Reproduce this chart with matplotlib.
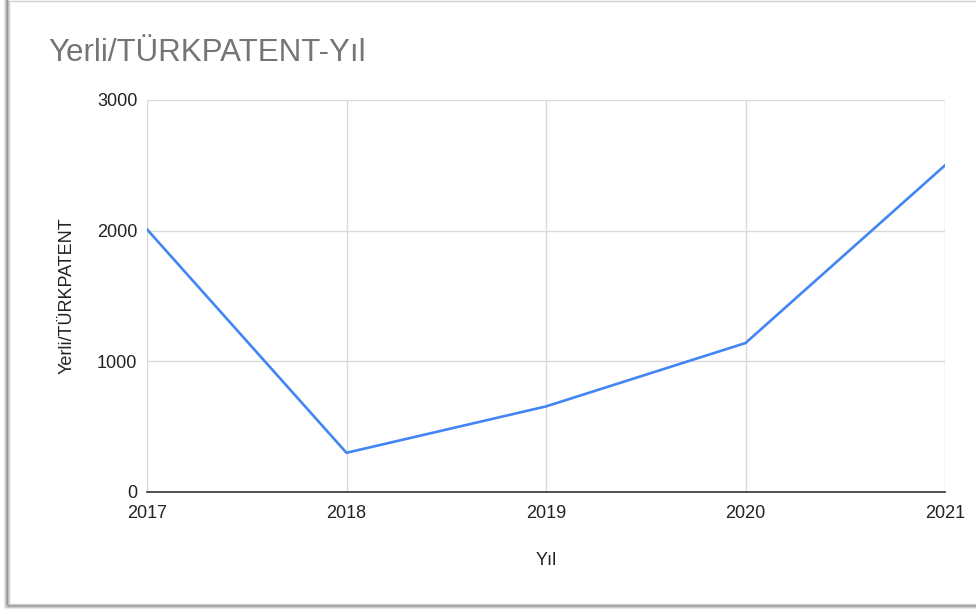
import matplotlib.pyplot as plt
from matplotlib.patches import Rectangle

years = [2017, 2018, 2019, 2020, 2021]
values = [2010, 300, 655, 1140, 2500]
y_ticks = [0, 1000, 2000, 3000]

plt.rcParams['font.family'] = ['Liberation Sans', 'DejaVu Sans']

W, H = 976, 614
fig = plt.figure(figsize=(W / 100, H / 100), dpi=100)
fig.patch.set_facecolor('white')

# card frame with soft shadow (left and bottom)
for i, a in enumerate([0.10, 0.16, 0.24, 0.32]):
    off = 4 - i
    fig.patches.append(Rectangle(((9 - off) / W, (H - 604 - off) / H), 1.2, 1.2,
                                 transform=fig.transFigure, facecolor='none',
                                 edgecolor=(0, 0, 0, a), linewidth=1.2, zorder=0))
fig.patches.append(Rectangle((9 / W, (H - 604) / H), 1.2, (604 - 0.5) / H,
                             transform=fig.transFigure, facecolor='white',
                             edgecolor='#d0d0d0', linewidth=1.0, zorder=1))

ax = fig.add_axes([147 / W, (H - 492) / H, (945 - 147) / W, (492 - 100) / H])
ax.set_zorder(5)
ax.set_facecolor('none')
ax.plot(years, values, color='#4285F4', linewidth=1.9, zorder=3)

ax.set_xlim(2017, 2021)
ax.set_ylim(0, 3000)
ax.set_xticks(years)
ax.set_yticks(y_ticks)
ax.grid(True, color='#d9d9d9', linewidth=1.0)
for s in ['top', 'right', 'left']:
    ax.spines[s].set_visible(False)
ax.spines['bottom'].set_color('#333333')
ax.spines['bottom'].set_linewidth(1.2)
ax.spines['bottom'].set_zorder(4)
ax.tick_params(length=0, labelsize=13, labelcolor='#222222')
ax.tick_params(axis='x', pad=9)
ax.tick_params(axis='y', pad=7)

ax.set_xlabel('Yıl', fontsize=13, color='#222222', labelpad=22)
ax.set_ylabel('Yerli/TÜRKPATENT', fontsize=13, color='#222222', labelpad=15)

fig.text(48 / W, 1 - 53 / H, 'Yerli/TÜRKPATENT-Yıl', fontsize=22.5,
         color='#757575', ha='left', va='center', zorder=6)

fig.savefig('out.png', dpi=100)
